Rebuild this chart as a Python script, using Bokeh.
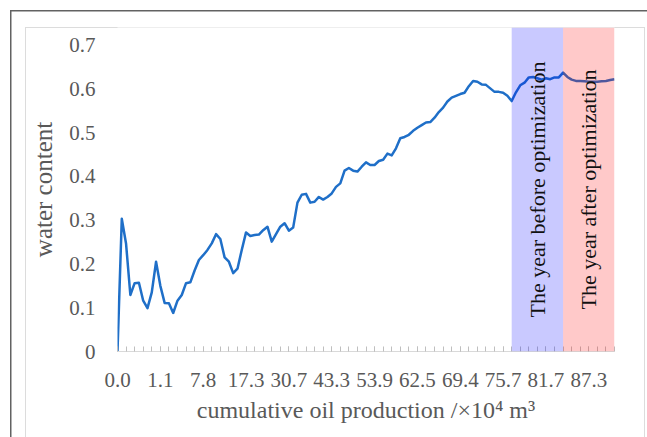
import numpy as np
from bokeh.plotting import figure
from bokeh.models import Range1d, FixedTicker, BoxAnnotation
from bokeh.core.properties import value
from bokeh.embed import file_html
from bokeh.resources import INLINE

# monthly water content (fraction)
water_content = [
    0.000, 0.303, 0.246, 0.129, 0.156, 0.157, 0.116, 0.099, 0.135, 0.205,
    0.150, 0.111, 0.110, 0.088, 0.116, 0.129, 0.156, 0.158, 0.185, 0.209,
    0.220, 0.232, 0.247, 0.268, 0.257, 0.215, 0.205, 0.179, 0.189, 0.232,
    0.272, 0.264, 0.266, 0.267, 0.277, 0.285, 0.251, 0.268, 0.285, 0.293,
    0.276, 0.283, 0.340, 0.358, 0.360, 0.340, 0.342, 0.353, 0.347, 0.353,
    0.361, 0.376, 0.384, 0.413, 0.419, 0.413, 0.411, 0.422, 0.432, 0.426,
    0.426, 0.435, 0.438, 0.452, 0.448, 0.464, 0.487, 0.490, 0.495, 0.504,
    0.511, 0.517, 0.523, 0.524, 0.534, 0.547, 0.557, 0.571, 0.580, 0.584,
    0.588, 0.591, 0.606, 0.618, 0.616, 0.610, 0.609, 0.601, 0.593, 0.593,
    0.591, 0.584, 0.572, 0.592, 0.608, 0.614, 0.626, 0.627, 0.624, 0.621,
    0.624, 0.622, 0.626, 0.626, 0.637, 0.627, 0.621, 0.618, 0.618, 0.617,
    0.616, 0.616, 0.616, 0.617, 0.618, 0.620, 0.622,
]
month_index = list(range(len(water_content)))

# category axis labels (cumulative oil production, 10^4 m^3)
x_label_index = [0, 10, 20, 30, 40, 50, 60, 70, 80, 90, 100, 110]
x_labels = ["0.0", "1.1", "7.8", "17.3", "30.7", "43.3", "53.9", "62.5",
            "69.4", "75.7", "81.7", "87.3"]
x_tick_index = list(range(0, len(water_content), 2))

y_ticks = [0.0, 0.1, 0.2, 0.3, 0.4, 0.5, 0.6, 0.7]
y_labels = ["0", "0.1", "0.2", "0.3", "0.4", "0.5", "0.6", "0.7"]

# shaded periods (category index ranges)
period_start = [92, 104]
period_end = [104, 116]
period_names = ["The year before optimization", "The year after optimization"]
period_colors = ["#0000ff", "#ff0000"]

FONT = "Liberation Serif"
GREY = "#595959"

p = figure(width=647, height=437, output_backend="svg", toolbar_location=None,
           x_range=Range1d(0, len(water_content) - 1), y_range=Range1d(0, 0.74),
           min_border_left=117, min_border_right=33, min_border_top=27,
           min_border_bottom=86)
p.outline_line_color = None
p.grid.grid_line_color = None
p.background_fill_color = "white"
p.border_fill_alpha = 0

# chart-area frame lines drawn as the host element's background
dark = "linear-gradient(#626262, #626262)"
light = "linear-gradient(#dcdcdc, #dcdcdc)"
p.styles = {
    "background-color": "white",
    "background-image": ", ".join([dark, dark, light, light, light]),
    "background-size": "637px 1.5px, 1.5px 427px, 620px 1px, 1px 410px, 1px 410px",
    "background-position": "10px 10px, 10px 10px, 25px 27px, 25px 27px, 644px 27px",
    "background-repeat": "no-repeat",
}

p.line(month_index, water_content, line_color="#1f6fc8", line_width=2.5,
       line_join="round")

for s, e, c in zip(period_start, period_end, period_colors):
    p.add_layout(BoxAnnotation(left=s, right=e, fill_color=c, fill_alpha=0.21,
                               line_color=None))

tx = [(s + e) / 2 for s, e in zip(period_start, period_end)]
ty = [0.37] * len(tx)
tr = p.text(x=tx, y=ty, text=period_names, angle=np.pi / 2,
            text_align="center", text_baseline="middle",
            text_font=value(FONT), text_font_size="22px", text_color="#111111")
tr.level = "overlay"

# x axis
xa = p.xaxis[0]
xa.ticker = FixedTicker(ticks=x_label_index, minor_ticks=x_tick_index)
xa.major_label_overrides = dict(zip(x_label_index, x_labels))
xa.axis_line_color = "#d9d9d9"
xa.major_tick_line_color = "#bfbfbf"
xa.minor_tick_line_color = "#bfbfbf"
xa.major_tick_in = 5
xa.major_tick_out = 0
xa.minor_tick_in = 5
xa.minor_tick_out = 0
xa.major_label_text_font = FONT
xa.major_label_text_font_size = "21px"
xa.major_label_text_color = GREY
xa.major_label_standoff = 21
xa.axis_label = "cumulative oil production /\u00d710\u2074 m\u00b3"
xa.axis_label_text_font = FONT
xa.axis_label_text_font_size = "24px"
xa.axis_label_text_font_style = "normal"
xa.axis_label_text_color = GREY
xa.axis_label_standoff = 7

# y axis
ya = p.yaxis[0]
ya.ticker = FixedTicker(ticks=y_ticks)
ya.major_label_overrides = dict(zip(y_ticks, y_labels))
ya.axis_line_color = None
ya.major_tick_line_color = None
ya.minor_tick_line_color = None
ya.major_label_text_font = FONT
ya.major_label_text_font_size = "21px"
ya.major_label_text_color = GREY
ya.major_label_standoff = 16
ya.axis_label = "water content"
ya.axis_label_text_font = FONT
ya.axis_label_text_font_size = "25px"
ya.axis_label_text_font_style = "normal"
ya.axis_label_text_color = GREY
ya.axis_label_standoff = 9

open("out.html", "w").write(file_html(p, INLINE))
